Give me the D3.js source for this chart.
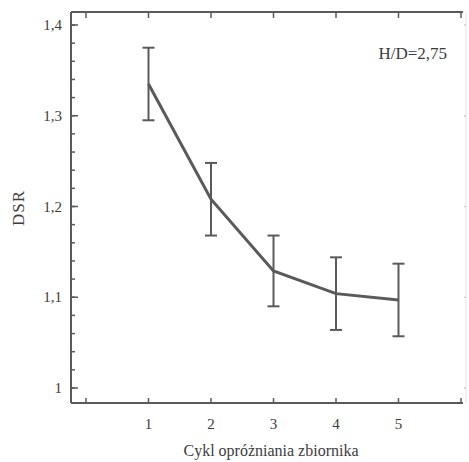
<!DOCTYPE html>
<html>
<head>
<meta charset="utf-8">
<script src="https://cdn.jsdelivr.net/npm/d3@7"></script>
<style>
  body { margin: 0; background: #fff; }
  svg text { font-family: "Liberation Serif", "DejaVu Serif", serif; fill: #3c3c3c; }
</style>
</head>
<body>
<svg class="chart" width="469" height="462"></svg>
<script>
// data
const cycles = [1, 2, 3, 4, 5]
const dsr = [1.335, 1.208, 1.129, 1.104, 1.097]
const dsrErr = [0.040, 0.040, 0.039, 0.040, 0.040]
const yTicks = [1.0, 1.1, 1.2, 1.3, 1.4]
const yTickLabels = ["1", "1,1", "1,2", "1,3", "1,4"]
const xTicks = [0, 1, 2, 3, 4, 5, 6]
const xTickLabels = ["", "1", "2", "3", "4", "5", ""]

const ink = "#5a5a5a"
const frame = {left: 71, right: 466, top: 12, bottom: 403}

const svg = d3.select(".chart")

const xScale = d3.scaleLinear()
    .domain([0, 6])
    .range([86, 461])

const yScale = d3.scaleLinear()
    .domain([1.0, 1.4])
    .range([388, 25])

// frame
svg.append("line").attr("x1", frame.left).attr("x2", frame.left).attr("y1", frame.top).attr("y2", frame.bottom)
    .attr("stroke", ink).attr("stroke-width", 2)
svg.append("line").attr("x1", frame.left).attr("x2", 463).attr("y1", frame.bottom).attr("y2", frame.bottom)
    .attr("stroke", ink).attr("stroke-width", 2)
svg.append("line").attr("x1", frame.left).attr("x2", 463).attr("y1", frame.top).attr("y2", frame.top)
    .attr("stroke", ink).attr("stroke-width", 2)
svg.append("line").attr("x1", frame.right).attr("x2", frame.right).attr("y1", frame.top).attr("y2", frame.bottom)
    .attr("stroke", "#e4e4e4").attr("stroke-width", 1)

// y ticks (major + minor every 0.02), pointing inward
const minor = d3.range(1.0, 1.4001, 0.02)
svg.selectAll(".ytick-minor")
    .data(minor)
    .enter().append("line")
    .attr("class", "ytick-minor")
    .attr("x1", frame.left).attr("x2", frame.left + 4)
    .attr("y1", d => yScale(d)).attr("y2", d => yScale(d))
    .attr("stroke", ink).attr("stroke-width", 1.5)

svg.selectAll(".ytick")
    .data(yTicks)
    .enter().append("line")
    .attr("class", "ytick")
    .attr("x1", frame.left).attr("x2", frame.left + 7)
    .attr("y1", d => yScale(d)).attr("y2", d => yScale(d))
    .attr("stroke", ink).attr("stroke-width", 1.5)

svg.selectAll(".ytick-r")
    .data(yTicks)
    .enter().append("line")
    .attr("class", "ytick-r")
    .attr("x1", frame.right - 2).attr("x2", frame.right)
    .attr("y1", d => yScale(d)).attr("y2", d => yScale(d))
    .attr("stroke", "#cfcfcf").attr("stroke-width", 1.5)

svg.selectAll(".ylabel")
    .data(yTicks)
    .enter().append("text")
    .attr("class", "ylabel")
    .attr("x", 62)
    .attr("y", d => yScale(d) + 5)
    .attr("text-anchor", "end")
    .style("font-size", "15px")
    .text((d, i) => yTickLabels[i])

// x ticks, bottom and top, inward
svg.selectAll(".xtick")
    .data(xTicks)
    .enter().append("line")
    .attr("class", "xtick")
    .attr("x1", d => xScale(d)).attr("x2", d => xScale(d))
    .attr("y1", frame.bottom).attr("y2", frame.bottom - 5)
    .attr("stroke", ink).attr("stroke-width", 1.5)

svg.selectAll(".xtick-top")
    .data(xTicks)
    .enter().append("line")
    .attr("class", "xtick-top")
    .attr("x1", d => xScale(d)).attr("x2", d => xScale(d))
    .attr("y1", frame.top).attr("y2", frame.top + 6)
    .attr("stroke", ink).attr("stroke-width", 1.5)

svg.selectAll(".xlabel")
    .data(xTicks)
    .enter().append("text")
    .attr("class", "xlabel")
    .attr("x", d => xScale(d))
    .attr("y", 429)
    .attr("text-anchor", "middle")
    .style("font-size", "15px")
    .text((d, i) => xTickLabels[i])

// axis titles
svg.append("text")
    .attr("transform", "translate(24, 208) rotate(-90)")
    .attr("text-anchor", "middle")
    .style("font-size", "17px")
    .style("letter-spacing", "1px")
    .text("DSR")

svg.append("text")
    .attr("x", 271)
    .attr("y", 456)
    .attr("text-anchor", "middle")
    .style("font-size", "16px")
    .text("Cykl opróżniania zbiornika")

svg.append("text")
    .attr("x", 447)
    .attr("y", 59)
    .attr("text-anchor", "end")
    .style("font-size", "17px")
    .text("H/D=2,75")

// series
const points = cycles.map((c, i) => ({x: c, y: dsr[i], e: dsrErr[i]}))

const line = d3.line()
    .x(d => xScale(d.x))
    .y(d => yScale(d.y))

svg.append("path")
    .datum(points)
    .attr("d", line)
    .attr("fill", "none")
    .attr("stroke", ink)
    .attr("stroke-width", 3)

const bars = svg.selectAll(".err")
    .data(points)
    .enter().append("g")
    .attr("class", "err")

bars.append("line")
    .attr("x1", d => xScale(d.x)).attr("x2", d => xScale(d.x))
    .attr("y1", d => yScale(d.y + d.e)).attr("y2", d => yScale(d.y - d.e))
    .attr("stroke", ink).attr("stroke-width", 2)

bars.append("line")
    .attr("x1", d => xScale(d.x) - 6).attr("x2", d => xScale(d.x) + 6)
    .attr("y1", d => yScale(d.y + d.e)).attr("y2", d => yScale(d.y + d.e))
    .attr("stroke", ink).attr("stroke-width", 2)

bars.append("line")
    .attr("x1", d => xScale(d.x) - 6).attr("x2", d => xScale(d.x) + 6)
    .attr("y1", d => yScale(d.y - d.e)).attr("y2", d => yScale(d.y - d.e))
    .attr("stroke", ink).attr("stroke-width", 2)
</script>
</body>
</html>
